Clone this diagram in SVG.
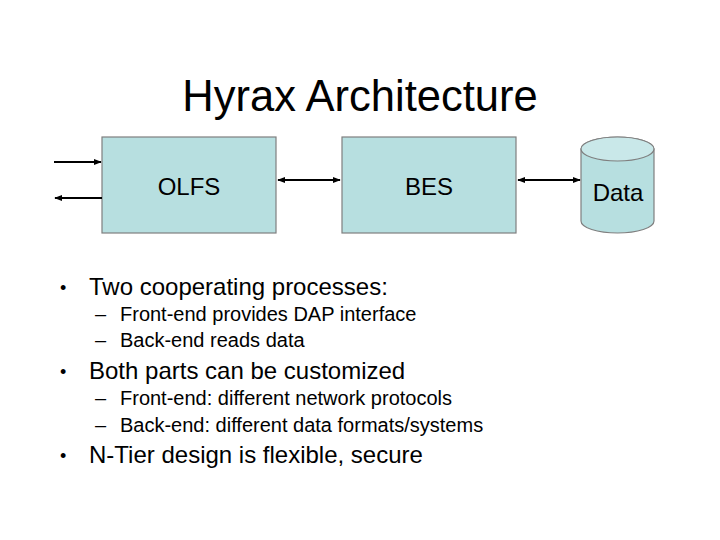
<svg xmlns="http://www.w3.org/2000/svg" width="720" height="540" viewBox="0 0 720 540">
<defs>
<style>
text{font-family:"Liberation Sans",Arial,sans-serif;fill:#000}
.box{fill:#b7dfe0;stroke:#7f7f7f;stroke-width:1.2}
.lbl{font-size:24px;text-anchor:middle}
.l1{font-size:24px}
.l2{font-size:20px}
.bl{font-size:18px}
.c{stroke:#000;stroke-width:2;fill:none}
</style>
<marker id="ah" viewBox="0 0 10 10" refX="9" refY="5" markerWidth="4" markerHeight="4" orient="auto-start-reverse"><path d="M0,1 L10,5 L0,9 z" fill="#000"/></marker>
</defs>
<rect width="720" height="540" fill="#fff"/>
<text x="360" y="111" font-size="43.5" text-anchor="middle">Hyrax Architecture</text>
<g id="olfs"><rect class="box" x="102" y="137" width="174" height="96"/><text class="lbl" x="189" y="195">OLFS</text></g>
<g id="bes"><rect class="box" x="342" y="137" width="174" height="96"/><text class="lbl" x="429" y="195">BES</text></g>
<g id="data"><path class="box" d="M581,149 A36.5,12 0 0 1 654,149 L654,221 A36.5,12 0 0 1 581,221 Z"/><ellipse cx="617.5" cy="149" rx="36.5" ry="12" fill="#c9e8e9" stroke="#7f7f7f" stroke-width="1.2"/><text class="lbl" x="618" y="201">Data</text></g>
<g id="connectors">
<line class="c" x1="54" y1="162" x2="101" y2="162" marker-end="url(#ah)"/>
<line class="c" x1="102" y1="198" x2="55" y2="198" marker-end="url(#ah)"/>
<line class="c" x1="278" y1="180" x2="340" y2="180" marker-start="url(#ah)" marker-end="url(#ah)"/>
<line class="c" x1="518" y1="180" x2="580" y2="180" marker-start="url(#ah)" marker-end="url(#ah)"/>
</g>
<g id="bullets">
<text class="bl" x="60" y="294">•</text><text class="l1" x="89" y="295">Two cooperating processes:</text>
<text class="l2" x="95" y="321">–</text><text class="l2" x="120" y="321">Front-end provides DAP interface</text>
<text class="l2" x="95" y="347">–</text><text class="l2" x="120" y="347">Back-end reads data</text>
<text class="bl" x="60" y="378">•</text><text class="l1" x="89" y="379">Both parts can be customized</text>
<text class="l2" x="95" y="405">–</text><text class="l2" x="120" y="405">Front-end: different network protocols</text>
<text class="l2" x="95" y="432">–</text><text class="l2" x="120" y="432">Back-end: different data formats/systems</text>
<text class="bl" x="60" y="462">•</text><text class="l1" x="89" y="463">N-Tier design is flexible, secure</text>
</g>
</svg>
